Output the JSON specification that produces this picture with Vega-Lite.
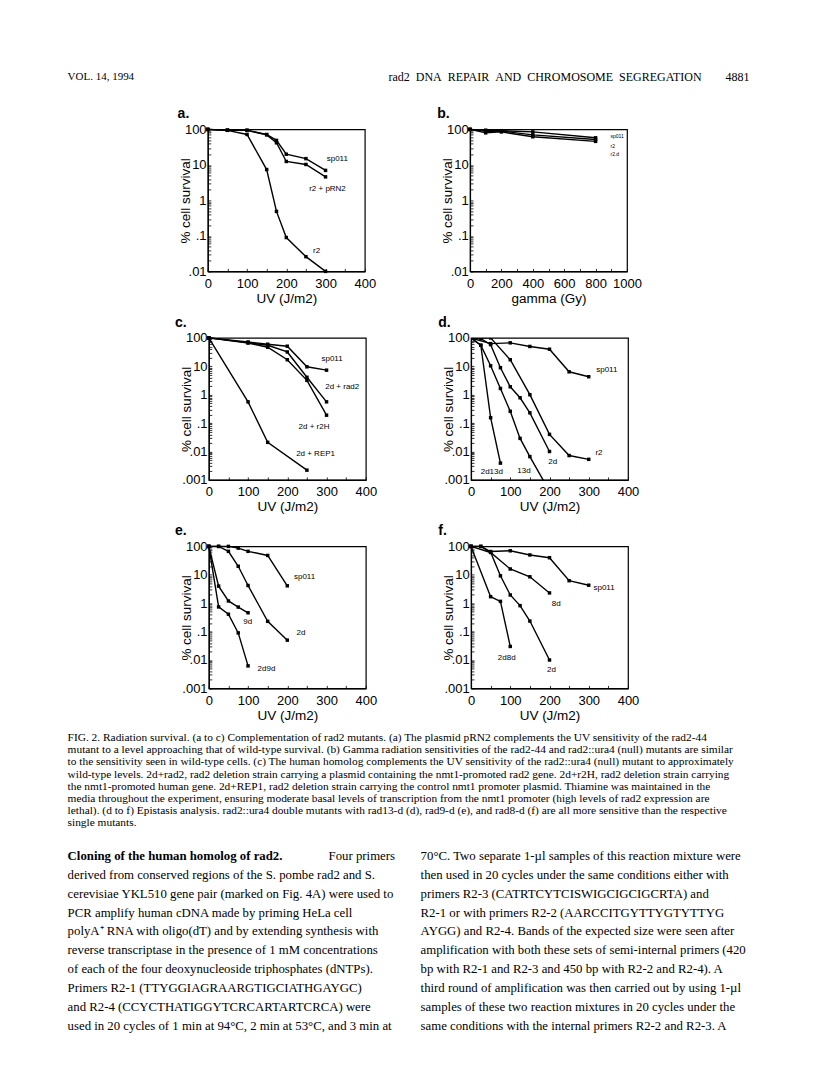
{
  "$schema": "https://vega.github.io/schema/vega-lite/v6.json",
  "background": "white",
  "padding": {"left": 67.6, "top": 56.9, "right": 5, "bottom": 5},
  "spacing": 8.5,
  "datasets": {
    "header": [
      {"side": "start", "t": "VOL. 14, 1994"},
      {"side": "end", "t": "rad2\u2002DNA\u2002REPAIR\u2002AND\u2002CHROMOSOME\u2002SEGREGATION\u2003\u20034881"}
    ],
    "a": [
      {"s": "sp011", "x": 0, "y": 100}, {"s": "sp011", "x": 50, "y": 95}, {"s": "sp011", "x": 100, "y": 95}, {"s": "sp011", "x": 150, "y": 72}, {"s": "sp011", "x": 175, "y": 49}, {"s": "sp011", "x": 200, "y": 20}, {"s": "sp011", "x": 250, "y": 15}, {"s": "sp011", "x": 300, "y": 7},
      {"s": "r2 + pRN2", "x": 0, "y": 100}, {"s": "r2 + pRN2", "x": 50, "y": 95}, {"s": "r2 + pRN2", "x": 100, "y": 94}, {"s": "r2 + pRN2", "x": 150, "y": 70}, {"s": "r2 + pRN2", "x": 175, "y": 42}, {"s": "r2 + pRN2", "x": 200, "y": 12.5}, {"s": "r2 + pRN2", "x": 250, "y": 10.3}, {"s": "r2 + pRN2", "x": 300, "y": 4.6},
      {"s": "r2", "x": 0, "y": 100}, {"s": "r2", "x": 50, "y": 94}, {"s": "r2", "x": 100, "y": 72}, {"s": "r2", "x": 150, "y": 7.4}, {"s": "r2", "x": 175, "y": 0.49}, {"s": "r2", "x": 200, "y": 0.09}, {"s": "r2", "x": 250, "y": 0.026}, {"s": "r2", "x": 300, "y": 0.01}
    ],
    "aL": [
      {"t": "sp011", "x": 330, "y": 15}, {"t": "r2 + pRN2", "x": 305, "y": 2.1}, {"t": "r2", "x": 277, "y": 0.038}
    ],
    "b": [
      {"s": "sp011", "x": 0, "y": 100}, {"s": "sp011", "x": 100, "y": 95}, {"s": "sp011", "x": 200, "y": 92}, {"s": "sp011", "x": 400, "y": 85}, {"s": "sp011", "x": 800, "y": 58},
      {"s": "r2", "x": 0, "y": 100}, {"s": "r2", "x": 100, "y": 88}, {"s": "r2", "x": 200, "y": 90}, {"s": "r2", "x": 400, "y": 70}, {"s": "r2", "x": 800, "y": 52},
      {"s": "r2.d", "x": 0, "y": 100}, {"s": "r2.d", "x": 100, "y": 80}, {"s": "r2.d", "x": 200, "y": 85}, {"s": "r2.d", "x": 400, "y": 62}, {"s": "r2.d", "x": 800, "y": 46}
    ],
    "bL": [
      {"t": "sp011", "x": 895, "y": 64}, {"t": "r2", "x": 895, "y": 34}, {"t": "r2.d", "x": 895, "y": 20}
    ],
    "c": [
      {"s": "sp011", "x": 0, "y": 100}, {"s": "sp011", "x": 100, "y": 72}, {"s": "sp011", "x": 150, "y": 60}, {"s": "sp011", "x": 200, "y": 51}, {"s": "sp011", "x": 250, "y": 9.6}, {"s": "sp011", "x": 300, "y": 7.3},
      {"s": "2d + rad2", "x": 0, "y": 100}, {"s": "2d + rad2", "x": 100, "y": 68}, {"s": "2d + rad2", "x": 150, "y": 55}, {"s": "2d + rad2", "x": 200, "y": 32}, {"s": "2d + rad2", "x": 250, "y": 4.1}, {"s": "2d + rad2", "x": 300, "y": 0.56},
      {"s": "2d + r2H", "x": 0, "y": 100}, {"s": "2d + r2H", "x": 100, "y": 66}, {"s": "2d + r2H", "x": 150, "y": 47}, {"s": "2d + r2H", "x": 200, "y": 17}, {"s": "2d + r2H", "x": 250, "y": 3.2}, {"s": "2d + r2H", "x": 300, "y": 0.19},
      {"s": "2d + REP1", "x": 0, "y": 100}, {"s": "2d + REP1", "x": 100, "y": 0.56}, {"s": "2d + REP1", "x": 150, "y": 0.021}, {"s": "2d + REP1", "x": 250, "y": 0.0022}
    ],
    "cL": [
      {"t": "sp011", "x": 314, "y": 17.4}, {"t": "2d + rad2", "x": 340, "y": 1.85}, {"t": "2d + r2H", "x": 268, "y": 0.073}, {"t": "2d + REP1", "x": 272, "y": 0.0085}
    ],
    "d": [
      {"s": "sp011", "x": 0, "y": 100}, {"s": "sp011", "x": 50, "y": 63}, {"s": "sp011", "x": 100, "y": 67}, {"s": "sp011", "x": 150, "y": 50}, {"s": "sp011", "x": 200, "y": 40}, {"s": "sp011", "x": 250, "y": 6.4}, {"s": "sp011", "x": 300, "y": 4.3},
      {"s": "r2", "x": 0, "y": 100}, {"s": "r2", "x": 25, "y": 100}, {"s": "r2", "x": 50, "y": 100}, {"s": "r2", "x": 100, "y": 17}, {"s": "r2", "x": 150, "y": 1}, {"s": "r2", "x": 200, "y": 0.04}, {"s": "r2", "x": 250, "y": 0.0072}, {"s": "r2", "x": 300, "y": 0.0053},
      {"s": "2d", "x": 0, "y": 100}, {"s": "2d", "x": 25, "y": 95}, {"s": "2d", "x": 50, "y": 58}, {"s": "2d", "x": 75, "y": 8.9}, {"s": "2d", "x": 100, "y": 1.9}, {"s": "2d", "x": 125, "y": 0.78}, {"s": "2d", "x": 150, "y": 0.23}, {"s": "2d", "x": 200, "y": 0.01},
      {"s": "13d", "x": 0, "y": 100}, {"s": "13d", "x": 25, "y": 55}, {"s": "13d", "x": 50, "y": 10.4}, {"s": "13d", "x": 75, "y": 1.66}, {"s": "13d", "x": 100, "y": 0.26}, {"s": "13d", "x": 125, "y": 0.029}, {"s": "13d", "x": 150, "y": 0.0066}, {"s": "13d", "x": 190, "y": 0.0007},
      {"s": "2d13d", "x": 0, "y": 100}, {"s": "2d13d", "x": 25, "y": 55}, {"s": "2d13d", "x": 50, "y": 0.155}, {"s": "2d13d", "x": 75, "y": 0.0039}
    ],
    "dL": [
      {"t": "sp011", "x": 346, "y": 7.3}, {"t": "r2", "x": 326, "y": 0.0087}, {"t": "2d", "x": 208, "y": 0.0044}, {"t": "13d", "x": 135, "y": 0.002}, {"t": "2d13d", "x": 53, "y": 0.0019}
    ],
    "e": [
      {"s": "sp011", "x": 0, "y": 100}, {"s": "sp011", "x": 25, "y": 100}, {"s": "sp011", "x": 50, "y": 100}, {"s": "sp011", "x": 75, "y": 87}, {"s": "sp011", "x": 100, "y": 67}, {"s": "sp011", "x": 150, "y": 48}, {"s": "sp011", "x": 200, "y": 4.1},
      {"s": "2d", "x": 0, "y": 100}, {"s": "2d", "x": 25, "y": 100}, {"s": "2d", "x": 50, "y": 67}, {"s": "2d", "x": 75, "y": 20}, {"s": "2d", "x": 100, "y": 4.2}, {"s": "2d", "x": 150, "y": 0.23}, {"s": "2d", "x": 200, "y": 0.05},
      {"s": "9d", "x": 0, "y": 100}, {"s": "9d", "x": 25, "y": 4}, {"s": "9d", "x": 50, "y": 1.2}, {"s": "9d", "x": 75, "y": 0.73}, {"s": "9d", "x": 100, "y": 0.46},
      {"s": "2d9d", "x": 0, "y": 100}, {"s": "2d9d", "x": 25, "y": 0.74}, {"s": "2d9d", "x": 50, "y": 0.41}, {"s": "2d9d", "x": 75, "y": 0.09}, {"s": "2d9d", "x": 100, "y": 0.0062}
    ],
    "eL": [
      {"t": "sp011", "x": 244, "y": 8.05}, {"t": "9d", "x": 99, "y": 0.22}, {"t": "2d", "x": 235, "y": 0.088}, {"t": "2d9d", "x": 147, "y": 0.0048}
    ],
    "f": [
      {"s": "sp011", "x": 0, "y": 100}, {"s": "sp011", "x": 25, "y": 100}, {"s": "sp011", "x": 50, "y": 66}, {"s": "sp011", "x": 100, "y": 70}, {"s": "sp011", "x": 150, "y": 50}, {"s": "sp011", "x": 200, "y": 40}, {"s": "sp011", "x": 250, "y": 6.2}, {"s": "sp011", "x": 300, "y": 4.3},
      {"s": "8d", "x": 0, "y": 100}, {"s": "8d", "x": 50, "y": 61}, {"s": "8d", "x": 100, "y": 16}, {"s": "8d", "x": 150, "y": 8.5}, {"s": "8d", "x": 200, "y": 2.3},
      {"s": "2d", "x": 0, "y": 100}, {"s": "2d", "x": 25, "y": 100}, {"s": "2d", "x": 50, "y": 62}, {"s": "2d", "x": 75, "y": 9.2}, {"s": "2d", "x": 100, "y": 1.95}, {"s": "2d", "x": 125, "y": 0.82}, {"s": "2d", "x": 150, "y": 0.235}, {"s": "2d", "x": 200, "y": 0.01},
      {"s": "2d8d", "x": 0, "y": 100}, {"s": "2d8d", "x": 50, "y": 1.7}, {"s": "2d8d", "x": 75, "y": 1.16}, {"s": "2d8d", "x": 100, "y": 0.03}
    ],
    "fL": [
      {"t": "sp011", "x": 339, "y": 3.5}, {"t": "8d", "x": 217, "y": 0.93}, {"t": "2d8d", "x": 91, "y": 0.0115}, {"t": "2d", "x": 205, "y": 0.0044}
    ],
    "caption": [
      {"side": "start", "line": 1, "t": "\u2003FIG. 2. Radiation survival. (a to c) Complementation of rad2 mutants. (a) The plasmid pRN2 complements the UV sensitivity of the rad2-44"},
      {"side": "start", "line": 2, "t": "mutant to a level approaching that of wild-type survival. (b) Gamma radiation sensitivities of the rad2-44 and rad2::ura4 (null) mutants are similar"},
      {"side": "start", "line": 3, "t": "to the sensitivity seen in wild-type cells. (c) The human homolog complements the UV sensitivity of the rad2::ura4 (null) mutant to approximately"},
      {"side": "start", "line": 4, "t": "wild-type levels. 2d+rad2, rad2 deletion strain carrying a plasmid containing the nmt1-promoted rad2 gene. 2d+r2H, rad2 deletion strain carrying"},
      {"side": "start", "line": 5, "t": "the nmt1-promoted human gene. 2d+REP1, rad2 deletion strain carrying the control nmt1 promoter plasmid. Thiamine was maintained in the"},
      {"side": "start", "line": 6, "t": "media throughout the experiment, ensuring moderate basal levels of transcription from the nmt1 promoter (high levels of rad2 expression are"},
      {"side": "start", "line": 7, "t": "lethal). (d to f) Epistasis analysis. rad2::ura4 double mutants with rad13-d (d), rad9-d (e), and rad8-d (f) are all more sensitive than the respective"},
      {"side": "start", "line": 8, "t": "single mutants."}
    ],
    "bodyL": [
      {"kind": "head", "side": "start", "line": 1, "t": "\u2003Cloning of the human homolog of rad2."},
      {"kind": "tail", "side": "end", "line": 1, "t": "Four primers"},
      {"kind": "text", "side": "start", "line": 2, "t": "derived from conserved regions of the S. pombe rad2 and S."},
      {"kind": "text", "side": "start", "line": 3, "t": "cerevisiae YKL510 gene pair (marked on Fig. 4A) were used to"},
      {"kind": "text", "side": "start", "line": 4, "t": "PCR amplify human cDNA made by priming HeLa cell"},
      {"kind": "text", "side": "start", "line": 5, "t": "polyA\u207a RNA with oligo(dT) and by extending synthesis with"},
      {"kind": "text", "side": "start", "line": 6, "t": "reverse transcriptase in the presence of 1 mM concentrations"},
      {"kind": "text", "side": "start", "line": 7, "t": "of each of the four deoxynucleoside triphosphates (dNTPs)."},
      {"kind": "text", "side": "start", "line": 8, "t": "Primers R2-1 (TTYGGIAGRAARGTIGCIATHGAYGC)"},
      {"kind": "text", "side": "start", "line": 9, "t": "and R2-4 (CCYCTHATIGGYTCRCARTARTCRCA) were"},
      {"kind": "text", "side": "start", "line": 10, "t": "used in 20 cycles of 1 min at 94\u00b0C, 2 min at 53\u00b0C, and 3 min at"}
    ],
    "bodyR": [
      {"kind": "text", "side": "start", "line": 1, "t": "70\u00b0C. Two separate 1-\u00b5l samples of this reaction mixture were"},
      {"kind": "text", "side": "start", "line": 2, "t": "then used in 20 cycles under the same conditions either with"},
      {"kind": "text", "side": "start", "line": 3, "t": "primers R2-3 (CATRTCYTCISWIGCIGCIGCRTA) and"},
      {"kind": "text", "side": "start", "line": 4, "t": "R2-1 or with primers R2-2 (AARCCITGYTTYGTYTTYG"},
      {"kind": "text", "side": "start", "line": 5, "t": "AYGG) and R2-4. Bands of the expected size were seen after"},
      {"kind": "text", "side": "start", "line": 6, "t": "amplification with both these sets of semi-internal primers (420"},
      {"kind": "text", "side": "start", "line": 7, "t": "bp with R2-1 and R2-3 and 450 bp with R2-2 and R2-4). A"},
      {"kind": "text", "side": "start", "line": 8, "t": "third round of amplification was then carried out by using 1-\u00b5l"},
      {"kind": "text", "side": "start", "line": 9, "t": "samples of these two reaction mixtures in 20 cycles under the"},
      {"kind": "text", "side": "start", "line": 10, "t": "same conditions with the internal primers R2-2 and R2-3. A"}
    ]
  },
  "config": {
    "view": {"stroke": "black", "strokeWidth": 1.2},
    "axis": {"grid": false, "domainColor": "black", "domainWidth": 1.2, "tickColor": "black", "tickSize": -3, "tickWidth": 0.8, "labelColor": "black", "labelFont": "Liberation Sans", "labelFontSize": 13, "labelOverlap": false, "labelFlush": false, "titleColor": "black", "titleFont": "Liberation Sans", "titleFontSize": 13.5, "titleFontWeight": "normal"},
    "axisX": {"labelPadding": 8.7, "titlePadding": 1.3, "minExtent": 0},
    "axisY": {"labelPadding": 4.7, "titlePadding": 1.6, "minExtent": 14, "maxExtent": 14},
    "title": {"anchor": "start", "frame": "group", "offset": 2.3, "baseline": "alphabetic", "font": "Liberation Sans", "fontSize": 14, "fontWeight": "bold", "color": "black"}
  },
  "vconcat": [
    {
      "width": 682, "height": 40.2, "view": {"stroke": null},
      "data": {"name": "header"},
      "encoding": {"x": {"field": "side", "type": "nominal", "scale": {"type": "point", "domain": ["start", "end"], "padding": 0}, "axis": null}, "text": {"field": "t"}},
      "layer": [
        {"transform": [{"filter": "datum.side == 'start'"}], "mark": {"type": "text", "align": "left", "baseline": "middle", "font": "Liberation Serif", "fontSize": 11, "color": "black"}},
        {"transform": [{"filter": "datum.side == 'end'"}], "mark": {"type": "text", "align": "right", "baseline": "middle", "font": "Liberation Serif", "fontSize": 12, "color": "black"}}
      ]
    },
    {
      "spacing": 59.2,
      "hconcat": [
        {"width": 49.9, "height": 10, "view": {"stroke": null}, "data": {"values": []}, "mark": "text", "encoding": {}},
        {
          "width": 157, "height": 142, "title": {"text": "a.", "dx": -30.2},
          "encoding": {
            "x": {"field": "x", "type": "quantitative", "scale": {"domain": [0, 400], "nice": false, "zero": false}, "axis": {"title": "UV (J/m2)", "format": "d", "values": [0, 50, 100, 150, 200, 250, 300, 350, 400], "labelExpr": "datum.value % 100 == 0 ? datum.label : ''"}},
            "y": {"field": "y", "type": "quantitative", "scale": {"type": "log", "domain": [0.01, 100], "nice": false}, "axis": {"title": "% cell survival", "values": [0.01, 0.02, 0.03, 0.04, 0.05, 0.06, 0.07, 0.08, 0.09, 0.1, 0.2, 0.3, 0.4, 0.5, 0.6, 0.7, 0.8, 0.9, 1, 2, 3, 4, 5, 6, 7, 8, 9, 10, 20, 30, 40, 50, 60, 70, 80, 90, 100], "labelExpr": "abs(log(datum.value)/LN10 - round(log(datum.value)/LN10)) < 0.001 ? (datum.value >= 1 ? format(datum.value, 'd') : replace(format(datum.value, '~g'), '0.', '.')) : ''"}}
          },
          "layer": [
            {"data": {"name": "a"}, "mark": {"type": "line", "color": "black", "strokeWidth": 1.4}, "encoding": {"detail": {"field": "s"}}},
            {"data": {"name": "a"}, "mark": {"type": "point", "shape": "square", "filled": true, "color": "black", "size": 12, "opacity": 1}},
            {"data": {"name": "aL"}, "mark": {"type": "text", "font": "Liberation Sans", "fontSize": 8, "color": "black"}, "encoding": {"text": {"field": "t"}}}
          ]
        },
        {
          "width": 157, "height": 142, "title": {"text": "b.", "dx": -32.7},
          "encoding": {
            "x": {"field": "x", "type": "quantitative", "scale": {"domain": [0, 1000], "nice": false, "zero": false}, "axis": {"title": "gamma (Gy)", "format": "d", "values": [0, 100, 200, 300, 400, 500, 600, 700, 800, 900, 1000], "labelExpr": "datum.value % 200 == 0 ? datum.label : ''"}},
            "y": {"field": "y", "type": "quantitative", "scale": {"type": "log", "domain": [0.01, 100], "nice": false}, "axis": {"title": "% cell survival", "values": [0.01, 0.02, 0.03, 0.04, 0.05, 0.06, 0.07, 0.08, 0.09, 0.1, 0.2, 0.3, 0.4, 0.5, 0.6, 0.7, 0.8, 0.9, 1, 2, 3, 4, 5, 6, 7, 8, 9, 10, 20, 30, 40, 50, 60, 70, 80, 90, 100], "labelExpr": "abs(log(datum.value)/LN10 - round(log(datum.value)/LN10)) < 0.001 ? (datum.value >= 1 ? format(datum.value, 'd') : replace(format(datum.value, '~g'), '0.', '.')) : ''"}}
          },
          "layer": [
            {"data": {"name": "b"}, "mark": {"type": "line", "color": "black", "strokeWidth": 1.4}, "encoding": {"detail": {"field": "s"}}},
            {"data": {"name": "b"}, "mark": {"type": "point", "shape": "square", "filled": true, "color": "black", "size": 12, "opacity": 1}},
            {"data": {"name": "bL"}, "mark": {"type": "text", "align": "left", "font": "Liberation Sans", "fontSize": 5, "color": "black"}, "encoding": {"text": {"field": "t"}}}
          ]
        }
      ]
    },
    {
      "spacing": 59.2,
      "hconcat": [
        {"width": 46.3, "height": 10, "view": {"stroke": null}, "data": {"values": []}, "mark": "text", "encoding": {}},
        {
          "width": 157, "height": 142, "title": {"text": "c.", "dx": -33.8},
          "encoding": {
            "x": {"field": "x", "type": "quantitative", "scale": {"domain": [0, 400], "nice": false, "zero": false}, "axis": {"title": "UV (J/m2)", "format": "d", "values": [0, 50, 100, 150, 200, 250, 300, 350, 400], "labelExpr": "datum.value % 100 == 0 ? datum.label : ''"}},
            "y": {"field": "y", "type": "quantitative", "scale": {"type": "log", "domain": [0.001, 100], "nice": false}, "axis": {"title": "% cell survival", "values": [0.001, 0.002, 0.003, 0.004, 0.005, 0.006, 0.007, 0.008, 0.009, 0.01, 0.02, 0.03, 0.04, 0.05, 0.06, 0.07, 0.08, 0.09, 0.1, 0.2, 0.3, 0.4, 0.5, 0.6, 0.7, 0.8, 0.9, 1, 2, 3, 4, 5, 6, 7, 8, 9, 10, 20, 30, 40, 50, 60, 70, 80, 90, 100], "labelExpr": "abs(log(datum.value)/LN10 - round(log(datum.value)/LN10)) < 0.001 ? (datum.value >= 1 ? format(datum.value, 'd') : replace(format(datum.value, '~g'), '0.', '.')) : ''"}}
          },
          "layer": [
            {"data": {"name": "c"}, "mark": {"type": "line", "color": "black", "strokeWidth": 1.4}, "encoding": {"detail": {"field": "s"}}},
            {"data": {"name": "c"}, "mark": {"type": "point", "shape": "square", "filled": true, "color": "black", "size": 12, "opacity": 1}},
            {"data": {"name": "cL"}, "mark": {"type": "text", "font": "Liberation Sans", "fontSize": 8, "color": "black"}, "encoding": {"text": {"field": "t"}}}
          ]
        },
        {
          "width": 157, "height": 142, "title": {"text": "d.", "dx": -32.7},
          "encoding": {
            "x": {"field": "x", "type": "quantitative", "scale": {"domain": [0, 400], "nice": false, "zero": false}, "axis": {"title": "UV (J/m2)", "format": "d", "values": [0, 50, 100, 150, 200, 250, 300, 350, 400], "labelExpr": "datum.value % 100 == 0 ? datum.label : ''"}},
            "y": {"field": "y", "type": "quantitative", "scale": {"type": "log", "domain": [0.001, 100], "nice": false}, "axis": {"title": "% cell survival", "values": [0.001, 0.002, 0.003, 0.004, 0.005, 0.006, 0.007, 0.008, 0.009, 0.01, 0.02, 0.03, 0.04, 0.05, 0.06, 0.07, 0.08, 0.09, 0.1, 0.2, 0.3, 0.4, 0.5, 0.6, 0.7, 0.8, 0.9, 1, 2, 3, 4, 5, 6, 7, 8, 9, 10, 20, 30, 40, 50, 60, 70, 80, 90, 100], "labelExpr": "abs(log(datum.value)/LN10 - round(log(datum.value)/LN10)) < 0.001 ? (datum.value >= 1 ? format(datum.value, 'd') : replace(format(datum.value, '~g'), '0.', '.')) : ''"}}
          },
          "layer": [
            {"data": {"name": "d"}, "mark": {"type": "line", "color": "black", "strokeWidth": 1.4, "clip": true}, "encoding": {"detail": {"field": "s"}}},
            {"data": {"name": "d"}, "mark": {"type": "point", "shape": "square", "filled": true, "color": "black", "size": 12, "opacity": 1, "clip": true}},
            {"data": {"name": "dL"}, "mark": {"type": "text", "font": "Liberation Sans", "fontSize": 8, "color": "black"}, "encoding": {"text": {"field": "t"}}}
          ]
        }
      ]
    },
    {
      "spacing": 59.2,
      "hconcat": [
        {"width": 46.3, "height": 10, "view": {"stroke": null}, "data": {"values": []}, "mark": "text", "encoding": {}},
        {
          "width": 157, "height": 142, "title": {"text": "e.", "dx": -33.8},
          "encoding": {
            "x": {"field": "x", "type": "quantitative", "scale": {"domain": [0, 400], "nice": false, "zero": false}, "axis": {"title": "UV (J/m2)", "format": "d", "values": [0, 50, 100, 150, 200, 250, 300, 350, 400], "labelExpr": "datum.value % 100 == 0 ? datum.label : ''"}},
            "y": {"field": "y", "type": "quantitative", "scale": {"type": "log", "domain": [0.001, 100], "nice": false}, "axis": {"title": "% cell survival", "values": [0.001, 0.002, 0.003, 0.004, 0.005, 0.006, 0.007, 0.008, 0.009, 0.01, 0.02, 0.03, 0.04, 0.05, 0.06, 0.07, 0.08, 0.09, 0.1, 0.2, 0.3, 0.4, 0.5, 0.6, 0.7, 0.8, 0.9, 1, 2, 3, 4, 5, 6, 7, 8, 9, 10, 20, 30, 40, 50, 60, 70, 80, 90, 100], "labelExpr": "abs(log(datum.value)/LN10 - round(log(datum.value)/LN10)) < 0.001 ? (datum.value >= 1 ? format(datum.value, 'd') : replace(format(datum.value, '~g'), '0.', '.')) : ''"}}
          },
          "layer": [
            {"data": {"name": "e"}, "mark": {"type": "line", "color": "black", "strokeWidth": 1.4}, "encoding": {"detail": {"field": "s"}}},
            {"data": {"name": "e"}, "mark": {"type": "point", "shape": "square", "filled": true, "color": "black", "size": 12, "opacity": 1}},
            {"data": {"name": "eL"}, "mark": {"type": "text", "font": "Liberation Sans", "fontSize": 8, "color": "black"}, "encoding": {"text": {"field": "t"}}}
          ]
        },
        {
          "width": 157, "height": 142, "title": {"text": "f.", "dx": -32.7},
          "encoding": {
            "x": {"field": "x", "type": "quantitative", "scale": {"domain": [0, 400], "nice": false, "zero": false}, "axis": {"title": "UV (J/m2)", "format": "d", "values": [0, 50, 100, 150, 200, 250, 300, 350, 400], "labelExpr": "datum.value % 100 == 0 ? datum.label : ''"}},
            "y": {"field": "y", "type": "quantitative", "scale": {"type": "log", "domain": [0.001, 100], "nice": false}, "axis": {"title": "% cell survival", "values": [0.001, 0.002, 0.003, 0.004, 0.005, 0.006, 0.007, 0.008, 0.009, 0.01, 0.02, 0.03, 0.04, 0.05, 0.06, 0.07, 0.08, 0.09, 0.1, 0.2, 0.3, 0.4, 0.5, 0.6, 0.7, 0.8, 0.9, 1, 2, 3, 4, 5, 6, 7, 8, 9, 10, 20, 30, 40, 50, 60, 70, 80, 90, 100], "labelExpr": "abs(log(datum.value)/LN10 - round(log(datum.value)/LN10)) < 0.001 ? (datum.value >= 1 ? format(datum.value, 'd') : replace(format(datum.value, '~g'), '0.', '.')) : ''"}}
          },
          "layer": [
            {"data": {"name": "f"}, "mark": {"type": "line", "color": "black", "strokeWidth": 1.4}, "encoding": {"detail": {"field": "s"}}},
            {"data": {"name": "f"}, "mark": {"type": "point", "shape": "square", "filled": true, "color": "black", "size": 12, "opacity": 1}},
            {"data": {"name": "fL"}, "mark": {"type": "text", "font": "Liberation Sans", "fontSize": 8, "color": "black"}, "encoding": {"text": {"field": "t"}}}
          ]
        }
      ]
    },
    {
      "width": 682, "height": 95.5, "view": {"stroke": null},
      "data": {"name": "caption"},
      "mark": {"type": "text", "align": "left", "baseline": "middle", "font": "Liberation Serif", "fontSize": 11.4, "color": "black"},
      "encoding": {
        "x": {"field": "side", "type": "nominal", "scale": {"type": "point", "domain": ["start", "end"], "padding": 0}, "axis": null},
        "y": {"field": "line", "type": "ordinal", "scale": {"type": "point", "padding": 0.43}, "axis": null},
        "text": {"field": "t"}
      }
    },
    {
      "spacing": 25,
      "hconcat": [
        {
          "width": 327.4, "height": 206.95, "view": {"stroke": null},
          "data": {"name": "bodyL"},
          "encoding": {
            "x": {"field": "side", "type": "nominal", "scale": {"type": "point", "domain": ["start", "end"], "padding": 0}, "axis": null},
            "y": {"field": "line", "type": "ordinal", "scale": {"type": "point", "padding": 3.28}, "axis": null},
            "text": {"field": "t"}
          },
          "layer": [
            {"transform": [{"filter": "datum.kind == 'text'"}], "mark": {"type": "text", "align": "left", "baseline": "middle", "font": "Liberation Serif", "fontSize": 12.8, "color": "black"}},
            {"transform": [{"filter": "datum.kind == 'head'"}], "mark": {"type": "text", "align": "left", "baseline": "middle", "font": "Liberation Serif", "fontSize": 12.8, "fontWeight": "bold", "color": "black"}},
            {"transform": [{"filter": "datum.kind == 'tail'"}], "mark": {"type": "text", "align": "right", "baseline": "middle", "font": "Liberation Serif", "fontSize": 12.8, "color": "black"}}
          ]
        },
        {
          "width": 329.5, "height": 206.95, "view": {"stroke": null},
          "data": {"name": "bodyR"},
          "mark": {"type": "text", "align": "left", "baseline": "middle", "font": "Liberation Serif", "fontSize": 12.8, "color": "black"},
          "encoding": {
            "x": {"field": "side", "type": "nominal", "scale": {"type": "point", "domain": ["start", "end"], "padding": 0}, "axis": null},
            "y": {"field": "line", "type": "ordinal", "scale": {"type": "point", "padding": 3.28}, "axis": null},
            "text": {"field": "t"}
          }
        }
      ]
    }
  ]
}
